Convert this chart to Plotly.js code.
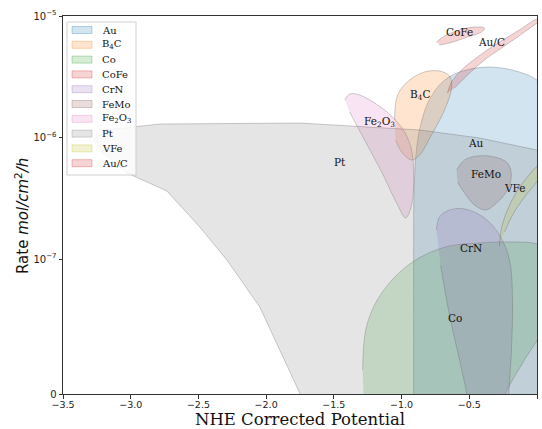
<!DOCTYPE html>
<html>
<head>
<meta charset="utf-8">
<script src="https://cdn.plot.ly/plotly-3.0.1.min.js"></script>
<style>html,body{margin:0;padding:0;background:#fff;}#chart{width:542px;height:429px;}</style>
</head>
<body>
<div id="chart"></div>
<script>
// Region outlines: potential (V vs NHE) and log10 of rate (mol/cm^2/h)
const materials = ["Au", "B<sub>4</sub>C", "Co", "CoFe", "CrN", "FeMo", "Fe<sub>2</sub>O<sub>3</sub>", "Pt", "VFe", "Au/C"];
const colors = ["#1f77b4", "#ff7f0e", "#2ca02c", "#d62728", "#9467bd", "#8c564b", "#e377c2", "#7f7f7f", "#bcbd22", "#d62728"];

const auX = [-0.911, -0.911, -0.911, -0.908, -0.890, -0.860, -0.800, -0.700, -0.572, -0.351, -0.130, 0.018, 0.165, 0.2, 0.2];
const auLog = [-8.33, -7.6, -6.9, -6.45, -6.10, -5.90, -5.70, -5.545, -5.461, -5.420, -5.461, -5.543, -5.774, -6.5, -8.33];

const b4cX = [-1.051, -1.029, -0.941, -0.830, -0.720, -0.646, -0.631, -0.683, -0.779, -0.867, -0.926, -1.0, -1.044];
const b4cLog = [-5.856, -5.650, -5.527, -5.461, -5.453, -5.494, -5.593, -5.774, -5.979, -6.144, -6.185, -6.119, -6.021];

const coX = [-1.288, -1.265, -1.199, -1.103, -0.978, -0.830, -0.646, -0.425, -0.203, 0.0, 0.133, 0.165, 0.055, -0.093, -0.240, -0.314, -1.273];
const coLog = [-7.913, -7.584, -7.378, -7.214, -7.074, -6.967, -6.893, -6.868, -6.860, -6.876, -6.967, -7.255, -7.568, -7.831, -8.119, -8.33, -8.33];

const cofeX = [-0.742, -0.683, -0.572, -0.462, -0.388, -0.410, -0.513, -0.646, -0.720];
const cofeLog = [-5.214, -5.165, -5.115, -5.091, -5.099, -5.132, -5.173, -5.222, -5.239];

const crnX = [-0.742, -0.720, -0.646, -0.535, -0.388, -0.277, -0.203, -0.181, -0.189, -0.211, -0.218, -0.484, -0.520, -0.572, -0.646, -0.712];
const crnLog = [-6.761, -6.654, -6.597, -6.588, -6.662, -6.802, -7.008, -7.337, -7.749, -8.160, -8.41, -8.41, -8.103, -7.831, -7.461, -7.049];

const femoX = [-0.594, -0.535, -0.439, -0.314, -0.218, -0.189, -0.218, -0.299, -0.380, -0.462, -0.535, -0.587];
const femoLog = [-6.267, -6.185, -6.152, -6.160, -6.210, -6.309, -6.432, -6.539, -6.597, -6.555, -6.457, -6.366];

const fe2o3X = [-1.420, -1.383, -1.310, -1.199, -1.074, -0.978, -0.926, -0.911, -0.926, -0.970, -1.029, -1.147, -1.273, -1.383];
const fe2o3Log = [-5.691, -5.642, -5.650, -5.716, -5.823, -5.955, -6.103, -6.309, -6.555, -6.662, -6.555, -6.284, -6.021, -5.790];

const ptX = [-3.279, -3.190, -2.785, -1.752, -0.867, -0.425, 0.0, 0.165, 0.165, -1.715, -1.752, -2.047, -2.290, -2.490, -2.733, -3.028, -3.227];
const ptLog = [-6.021, -5.938, -5.889, -5.881, -5.938, -6.004, -6.103, -6.12, -8.33, -8.33, -8.103, -7.395, -7.008, -6.737, -6.440, -6.292, -6.103];

const vfeX = [-0.277, -0.262, -0.218, -0.152, -0.071, 0.007, 0.055, 0.007, -0.093, -0.181, -0.240];
const vfeLog = [-6.893, -6.745, -6.597, -6.448, -6.325, -6.235, -6.235, -6.350, -6.490, -6.638, -6.778];

const aucX = [-0.661, -0.631, -0.557, -0.439, -0.277, -0.130, 0.0, 0.018, -0.093, -0.240, -0.388, -0.513, -0.609];
const aucLog = [-5.634, -5.543, -5.444, -5.337, -5.214, -5.115, -5.025, -5.033, -5.132, -5.247, -5.362, -5.486, -5.593];

const labelX = [-0.454, -0.867, -0.609, -0.572, -0.484, -0.373, -1.162, -1.457, -0.159, -0.336];
const labelLog = [-6.045, -5.650, -7.486, -5.132, -6.909, -6.300, -5.872, -6.202, -6.416, -5.214];

const yTickLog = [-8.111, -7, -6, -5];
const yTickText = ["0", "10<sup>\u22127</sup>", "10<sup>\u22126</sup>", "10<sup>\u22125</sup>"];
const xTickVals = [-3.5, -3.0, -2.5, -2.0, -1.5, -1.0, -0.5, 0.0];
const xTickText = ["\u22123.5", "\u22123.0", "\u22122.5", "\u22122.0", "\u22121.5", "\u22121.0", "\u22120.5", "0.0"];

const shapesX = [auX, b4cX, coX, cofeX, crnX, femoX, fe2o3X, ptX, vfeX, aucX];
const shapesLog = [auLog, b4cLog, coLog, cofeLog, crnLog, femoLog, fe2o3Log, ptLog, vfeLog, aucLog];

function hexA(h, a) {
  const r = parseInt(h.slice(1,3),16), g = parseInt(h.slice(3,5),16), b = parseInt(h.slice(5,7),16);
  return `rgba(${r},${g},${b},${a})`;
}
const pow10 = v => Math.pow(10, v);

// layout geometry (pixels) -> paper coordinates
const M = {l: 63, r: 5, t: 16, b: 35}, W = 542, H = 429;
const PW = W - M.l - M.r, PH = H - M.t - M.b;
const px = p => (p - M.l) / PW;
const py = p => (H - M.b - p) / PH;

const traces = materials.map((m, i) => ({
  type: "scatter",
  mode: "lines",
  x: shapesX[i],
  y: shapesLog[i].map(pow10),
  fill: "toself",
  fillcolor: hexA(colors[i], 0.2),
  line: {color: "rgba(60,60,60,0.25)", width: 1, shape: (i === 7) ? "linear" : "spline", smoothing: 1},
  name: m,
  hoverinfo: "skip",
  showlegend: false
}));

const annotations = materials.map((m, i) => ({
  x: labelX[i], y: labelLog[i], xref: "x", yref: "y",
  text: m, showarrow: false,
  font: {family: "DejaVu Serif, serif", size: 10.5, color: "#111"}
}));

// custom legend (matplotlib-style compact spacing)
const shapes = [{
  type: "rect", xref: "paper", yref: "paper",
  x0: px(67), x1: px(136), y0: py(22), y1: py(175),
  fillcolor: "rgba(255,255,255,0.8)", line: {color: "#d0d0d0", width: 1}, layer: "above"
}];
materials.forEach((m, i) => {
  const cy = 30 + i * 14.8;
  shapes.push({
    type: "rect", xref: "paper", yref: "paper",
    x0: px(72), x1: px(92), y0: py(cy - 3.5), y1: py(cy + 3.5),
    fillcolor: hexA(colors[i], 0.2), line: {color: hexA(colors[i], 0.3), width: 1}, layer: "above"
  });
  annotations.push({
    x: px(100), y: py(cy), xref: "paper", yref: "paper", xanchor: "left", yanchor: "middle",
    text: m, showarrow: false,
    font: {family: "DejaVu Serif, serif", size: 10, color: "#111"}
  });
});

// axis titles
annotations.push({
  x: 0.5, y: py(430), xref: "paper", yref: "paper", xanchor: "center", yanchor: "bottom",
  text: "NHE Corrected Potential", showarrow: false, borderpad: 0,
  font: {family: "DejaVu Serif, serif", size: 16.5, color: "#111"}
});
annotations.push({
  x: px(22), y: py(216), xref: "paper", yref: "paper", xanchor: "center", yanchor: "middle",
  textangle: -90, text: "Rate <i>mol/cm</i><sup>2</sup><i>/h</i>", showarrow: false,
  font: {family: "DejaVu Sans, sans-serif", size: 15, color: "#111"}
});

const layout = {
  width: W, height: H,
  margin: M,
  paper_bgcolor: "#fff", plot_bgcolor: "#fff",
  showlegend: false,
  xaxis: {range: [-3.5, 0], tickvals: xTickVals, ticktext: xTickText,
    ticks: "outside", ticklen: 3.5, tickcolor: "#333", showgrid: false, zeroline: false,
    showline: true, linecolor: "#333", mirror: true, linewidth: 1, ticklabelstandoff: -2,
    tickfont: {family: "DejaVu Sans, sans-serif", size: 9.5, color: "#222"}},
  yaxis: {type: "log", range: [-8.111, -5], tickvals: yTickLog.map(pow10), ticktext: yTickText,
    ticks: "outside", ticklen: 3.5, tickcolor: "#333", showgrid: false, zeroline: false,
    showline: true, linecolor: "#333", mirror: true, linewidth: 1,
    tickfont: {family: "DejaVu Sans, sans-serif", size: 10, color: "#222"}},
  shapes: shapes,
  annotations: annotations
};

Plotly.newPlot("chart", traces, layout, {displayModeBar: false, staticPlot: true});
</script>
</body>
</html>
